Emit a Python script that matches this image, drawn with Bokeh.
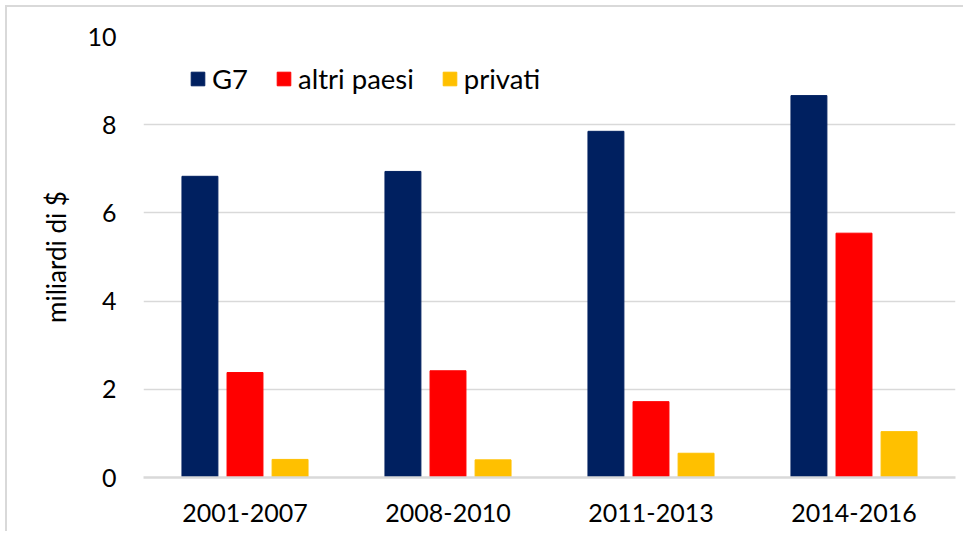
from bokeh.plotting import figure
from bokeh.models import ColumnDataSource, FactorRange, Range1d, Legend, LegendItem, FixedTicker
from bokeh.transform import dodge
from bokeh.embed import file_html
from bokeh.resources import INLINE

periods = ["2001-2007", "2008-2010", "2011-2013", "2014-2016"]
g7 = [6.83, 6.94, 7.85, 8.66]
altri = [2.38, 2.42, 1.72, 5.54]
privati = [0.41, 0.40, 0.55, 1.04]
series_names = ["G7", "altri paesi", "privati"]
colors = ["#002060", "#FF0000", "#FFC000"]
y_ticks = [0, 2, 4, 6, 8, 10]

src = ColumnDataSource(dict(period=periods, g7=g7, altri=altri, privati=privati))

FONT = "Lato"
W, H = 958, 526
p = figure(x_range=FactorRange(*periods, range_padding=0), y_range=Range1d(0, 10),
           width=W, height=H, output_backend="svg", toolbar_location=None,
           min_border_left=136, min_border_right=10, min_border_top=29, min_border_bottom=56)
p.outline_line_color = None
p.styles = {"border-top": "2px solid #d9d9d9", "border-left": "2px solid #d9d9d9",
            "margin-top": "5px", "margin-left": "5px"}

bw = 0.177
off = 0.222
r1 = p.vbar(x=dodge("period", -off, range=p.x_range), top="g7", width=bw, source=src,
            fill_color=colors[0], line_color=colors[0])
r2 = p.vbar(x=dodge("period", 0, range=p.x_range), top="altri", width=bw, source=src,
            fill_color=colors[1], line_color=colors[1])
r3 = p.vbar(x=dodge("period", off, range=p.x_range), top="privati", width=bw, source=src,
            fill_color=colors[2], line_color=colors[2])

p.xgrid.grid_line_color = None
p.ygrid.grid_line_color = "#d9d9d9"
p.ygrid.grid_line_width = 1.5
p.yaxis.ticker = FixedTicker(ticks=y_ticks)

p.xaxis.axis_line_color = "#d9d9d9"
p.xaxis.axis_line_width = 2.5
p.xaxis.major_tick_line_color = None
p.xaxis.minor_tick_line_color = None
p.xaxis.major_label_text_font = FONT
p.xaxis.major_label_text_font_size = "25px"
p.xaxis.major_label_text_color = "#000000"
p.xaxis.major_label_standoff = 20

p.yaxis.axis_line_color = None
p.yaxis.major_tick_line_color = None
p.yaxis.minor_tick_line_color = None
p.yaxis.major_label_text_font = FONT
p.yaxis.major_label_text_font_size = "25px"
p.yaxis.major_label_text_color = "#000000"
p.yaxis.major_label_standoff = 21
p.yaxis.axis_label = "miliardi di $"
p.yaxis.axis_label_text_font = FONT
p.yaxis.axis_label_text_font_size = "26px"
p.yaxis.axis_label_text_font_style = "normal"
p.yaxis.axis_label_text_color = "#000000"
p.yaxis.axis_label_standoff = 12

legend = Legend(items=[LegendItem(label=series_names[0], renderers=[r1]),
                       LegendItem(label=series_names[1], renderers=[r2]),
                       LegendItem(label=series_names[2], renderers=[r3])],
                orientation="horizontal", location=(46, 382),
                glyph_width=17, glyph_height=17, label_standoff=6, spacing=27,
                padding=0, margin=0, border_line_color=None, background_fill_alpha=0,
                label_text_font=FONT, label_text_font_size="27.5px", label_text_color="#000000")
p.add_layout(legend, "center")

open("out.html", "w").write(file_html(p, INLINE))
